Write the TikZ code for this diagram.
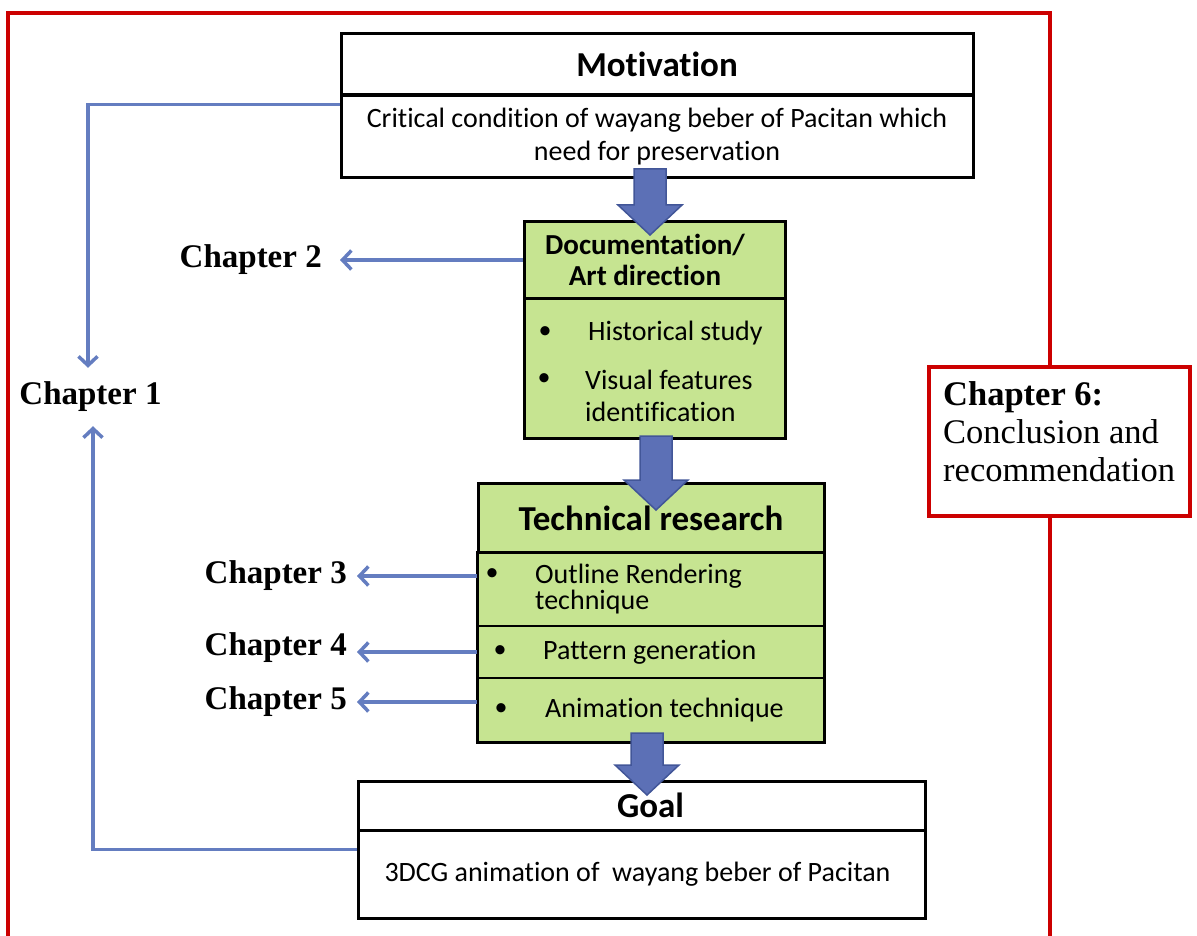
\documentclass[tikz,border=0pt]{standalone}
\usepackage{fontspec}
\setmainfont{Carlito}[Ligatures=NoCommon]
\newfontfamily\chapfont{Liberation Serif}
\usetikzlibrary{arrows.meta}

\definecolor{framered}{RGB}{204,0,0}
\definecolor{linkblue}{RGB}{100,125,192}
\definecolor{arrowblue}{RGB}{92,112,182}
\definecolor{arrowedge}{RGB}{66,86,152}
\definecolor{leafgreen}{RGB}{198,228,145}

\tikzset{
  box/.style={draw=black, line width=3pt, inner sep=0pt},
  hdr/.style={box, font=\bfseries\fontsize{35}{40}\selectfont},
  part/.style={draw=black, line width=1.5pt, fill=leafgreen, inner sep=0pt},
  txt/.style={inner sep=0pt, font=\fontsize{28}{33}\selectfont, align=left},
  dot/.style={inner sep=0pt, font=\fontsize{26}{33}\selectfont},
  chap/.style={inner sep=0pt, font=\chapfont\bfseries\fontsize{33}{36}\selectfont},
  link/.style={draw=linkblue, line width=3.5pt, -{Straight Barb[length=9pt,width=19pt]}},
  bigarrow/.style={fill=arrowblue, draw=arrowedge, line width=1.5pt},
}

% block arrow: centre x, top y, tip y
\newcommand\downblock[3]{%
  \draw[bigarrow] (#1-16,#2) -- (#1+16,#2) -- (#1+16,#3-30) -- (#1+32,#3-30)
    -- (#1,#3) -- (#1-32,#3-30) -- (#1-16,#3-30) -- cycle;}

\begin{document}
\begin{tikzpicture}[x=1pt, y=-1pt]
\useasboundingbox (0,0) rectangle (1197,936);

% outer frame
\draw[framered, line width=3.5pt] (8,945) -- (8,13) -- (1050,13) -- (1050,945);

% motivation
\node[hdr, minimum width=632pt, minimum height=61pt] (motiv) at (657,64.5) {Motivation};
\node[box, minimum width=632pt, minimum height=82pt, font=\fontsize{28}{33}\selectfont, align=center] (motivtxt) at (657,137)
  {Critical condition of wayang beber of Pacitan which\\need for preservation};

% documentation
\node[hdr, fill=leafgreen, minimum width=261pt, minimum height=76pt, align=center,
  font=\bfseries\fontsize{29}{31}\selectfont] (doc) at (654.5,260)
  {Documentation/\hspace*{19pt}\\Art direction\hspace*{19pt}};
\node[box, fill=leafgreen, minimum width=261pt, minimum height=140pt] (docbody) at (654.5,368) {};
\node[dot] (bhist) at (545,333) {\textbullet};
\node[txt, anchor=west] (hist) at (588,333) {Historical study};
\node[dot] (bvis) at (544,380) {\textbullet};
\node[txt, anchor=west, font=\fontsize{28}{32}\selectfont] (vis) at (585,396) {Visual features\\identification};

% technical research
\node[hdr, fill=leafgreen, minimum width=346pt, minimum height=70pt] (tech) at (651,518) {Technical research};
\node[part, minimum width=346pt, minimum height=73pt] (techa) at (651,589.5) {};
\node[part, minimum width=346pt, minimum height=52pt] (techb) at (651,652) {};
\node[part, minimum width=346pt, minimum height=64pt] (techc) at (651,710) {};
\draw[line width=3pt] (techa.north west) rectangle (techc.south east);
\node[dot] (bout) at (492,575) {\textbullet};
\node[txt, anchor=west, font=\fontsize{28}{26}\selectfont] (outl) at (535,589) {Outline Rendering\\technique};
\node[dot] (bpat) at (500,652) {\textbullet};
\node[txt, anchor=west] (patt) at (543,652) {Pattern generation};
\node[dot] (bani) at (501,710) {\textbullet};
\node[txt, anchor=west] (anim) at (545,710) {Animation technique};

% goal
\node[hdr, minimum width=567pt, minimum height=49pt] (goal) at (641.5,805.5) {\hspace*{18pt}Goal};
\node[box, minimum width=567pt, minimum height=88pt, font=\fontsize{28}{33}\selectfont] (goaltxt) at (641.5,874)
  {3DCG animation of \ wayang beber of Pacitan\hspace*{8pt}};

% chapter 6
\node[draw=framered, line width=3.5pt, fill=white, minimum width=261pt, minimum height=149pt] (ch6) at (1059.5,441.5) {};
\node[anchor=north west, inner sep=0pt, align=left, font=\chapfont\fontsize{34.5}{38}\selectfont] (ch6txt) at (943,381)
  {\textbf{Chapter 6:}\\Conclusion and\\recommendation};

% chapter labels
\node[chap, minimum height=58pt] (ch1) at (90.5,397) {Chapter 1};
\node[chap, anchor=east, inner xsep=18pt] (ch2) at (340,260) {Chapter 2};
\node[chap, anchor=east, inner xsep=10pt] (ch3) at (357,576) {Chapter 3};
\node[chap, anchor=east, inner xsep=10pt] (ch4) at (357,648) {Chapter 4};
\node[chap, anchor=east, inner xsep=10pt] (ch5) at (357,702) {Chapter 5};

\draw[link] ([yshift=-10pt]motivtxt.north west) -| ([xshift=-2.5pt]ch1.north);
\draw[link] ([yshift=-21pt]goaltxt.north west) -| ([xshift=2.5pt]ch1.south);
\draw[link] (doc.west) -- (ch2.east);
\draw[link] (techa.west |- ch3.east) -- (ch3.east);
\draw[link] (techb.west) -- (techb.west -| ch4.east);
\draw[link] (techc.west |- ch5.east) -- (ch5.east);

% flow
\downblock{650}{169}{235}
\downblock{656}{436}{510}
\downblock{647}{733}{795}
\end{tikzpicture}
\end{document}
